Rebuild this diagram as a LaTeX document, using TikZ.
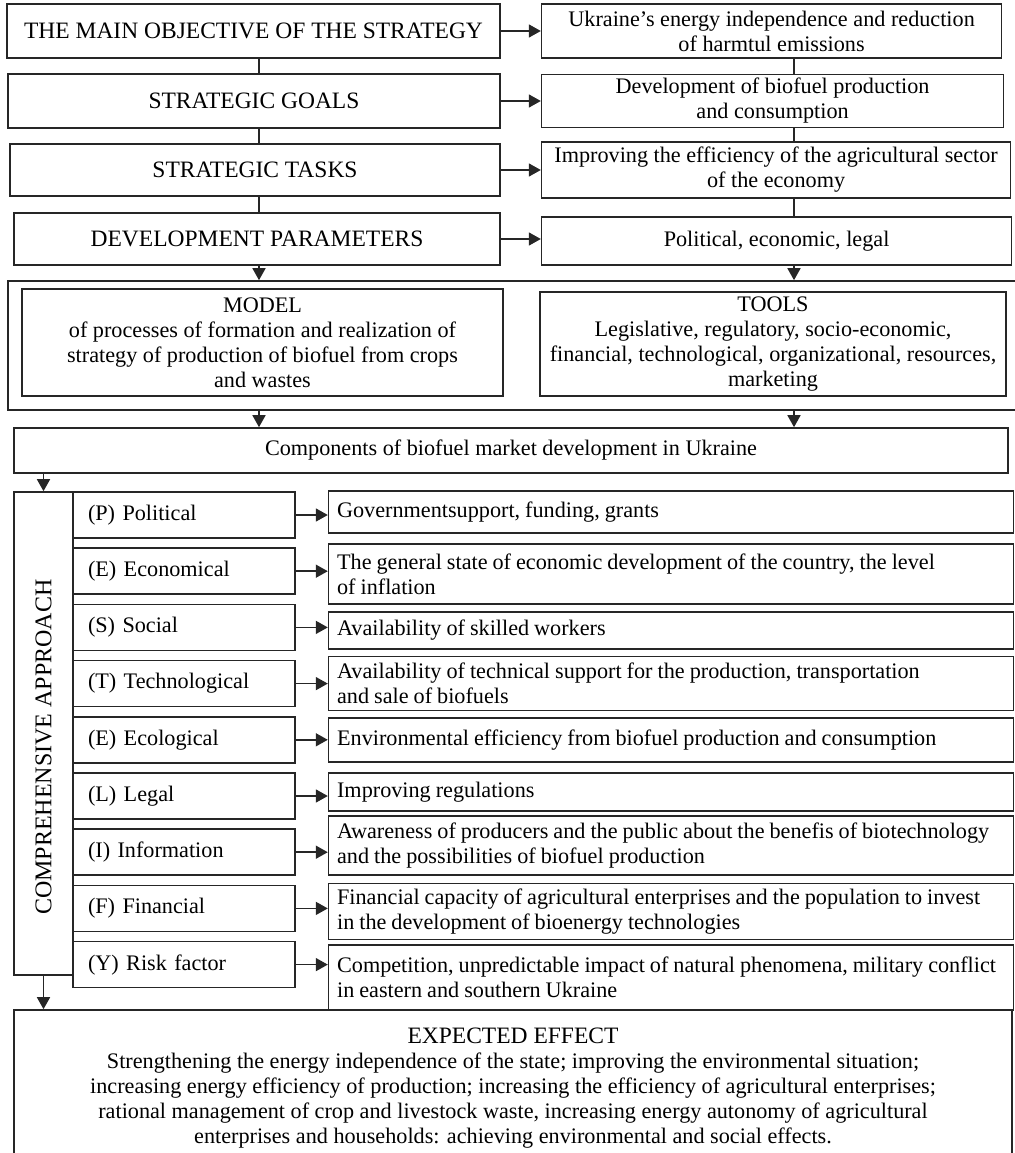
\documentclass[tikz,border=0pt]{standalone}
\usepackage{fontspec}
\usepackage{graphicx}
\setmainfont{Liberation Serif}
\usetikzlibrary{positioning,arrows.meta}

\newcommand{\tightspaces}{\spaceskip=5pt plus 1pt minus 1pt\relax}

\tikzset{
  box/.style={draw=black!85, line width=1.6pt, inner sep=0pt, align=center,
    font=\fontsize{22.2}{25}\selectfont},
  capsbox/.style={box, font=\fontsize{23.5}{25}\selectfont},
  factor/.style={box, text width=192pt, inner xsep=15pt, minimum height=46pt, align=left},
  effect/.style={box, text width=668pt, inner xsep=8.5pt, align=left},
  link/.style={draw=black!85, line width=1.6pt},
  arr/.style={link, -{Triangle[length=12pt,width=13pt]}}
}

\begin{document}
\begin{tikzpicture}[x=1pt, y=-1pt]
		\useasboundingbox (0,0) rectangle (1014,1153);
		
		% Column lines
		\coordinate (lc) at (259,0);
		\coordinate (rc) at (794,0);
		
		% Strategy levels
		\node[capsbox, minimum width=493pt, minimum height=54pt] (obj)    at (253.5,31) {THE MAIN OBJECTIVE OF THE STRATEGY};
		\node[capsbox, minimum width=492pt, minimum height=54pt] (goals)  at (254,101)  {STRATEGIC GOALS};
		\node[capsbox, minimum width=490pt, minimum height=52pt] (tasks)  at (255,170)  {STRATEGIC TASKS};
		\node[capsbox, minimum width=486pt, minimum height=52pt] (params) at (257,239)  {DEVELOPMENT PARAMETERS};
		
		\node[box, minimum width=460pt, minimum height=54pt, right=40pt of obj]   (obj_r)    {Ukraine’s energy independence and reduction\\of harmtul emissions};
		\node[box, minimum width=462pt, minimum height=53pt, right=40pt of goals] (goals_r)  {Development of biofuel production\\and consumption};
		\node[box, minimum width=469pt, minimum height=56pt, right=40pt of tasks] (tasks_r)  {Improving the efficiency of the agricultural sector\\of the economy};
		\node[box, minimum width=470pt, minimum height=48pt, right=40pt of params, yshift=-2pt] (params_r) {Political, economic, legal};
		
		% Model and tools
		\node[box, minimum width=1010pt, minimum height=129pt] (frame) at (513,345.5) {};
		\node[box, minimum width=481pt, minimum height=107pt] (model) at (262.5,342.5)
		  {MODEL\\of processes of formation and realization of\\strategy of production of biofuel from crops\\and wastes};
		\node[box, minimum width=466pt, minimum height=104pt] (tools) at (773,344)
		  {TOOLS\\Legislative, regulatory, socio-economic,\\financial, technological, organizational, resources,\\marketing};
		
		\node[box, minimum width=994pt, minimum height=45pt] (comp) at (511,450.5) {Components of biofuel market development in Ukraine};
		
		% Comprehensive approach
		\node[box, minimum width=59pt, minimum height=483pt] (approach) at (43.5,733.5)
		  {\rotatebox{90}{\fontsize{24}{25}\selectfont COMPREHENSIVE APPROACH\hspace*{27pt}}};
		
		\node[factor] (pol) at (184,515) {(P) Political};
		\node[factor, below=8.6pt of pol]  (econ)  {(E) Economical};
		\node[factor, below=8.6pt of econ] (soc)   {(S) Social};
		\node[factor, below=8.6pt of soc]  (tech)  {(T) Technological};
		\node[factor, below=8.6pt of tech] (ecol)  {(E) Ecological};
		\node[factor, below=8.6pt of ecol] (legal) {(L) Legal};
		\node[factor, below=8.6pt of legal] (info) {(I) Information};
		\node[factor, below=8.6pt of info] (fin)   {(F) Financial};
		\node[factor, below=8.6pt of fin]  (risk)  {(Y) Risk factor};
		
		\node[effect, minimum height=42pt, right=32pt of pol, yshift=3pt]   (pol_r)   {\tightspaces Governmentsupport, funding, grants};
		\node[effect, minimum height=60pt, right=32pt of econ, yshift=-3pt] (econ_r)  {\tightspaces\mbox{The general state of economic development of the country, the level}\\of inflation};
		\node[effect, minimum height=37pt, right=32pt of soc, yshift=-3pt]  (soc_r)   {\tightspaces Availability of skilled workers};
		\node[effect, minimum height=54pt, right=32pt of tech]              (tech_r)  {\tightspaces\mbox{Availability of technical support for the production, transportation}\\and sale of biofuels};
		\node[effect, minimum height=44pt, right=32pt of ecol]              (ecol_r)  {\tightspaces Environmental efficiency from biofuel production and consumption};
		\node[effect, minimum height=38pt, right=32pt of legal, yshift=4pt] (legal_r) {\tightspaces Improving regulations};
		\node[effect, minimum height=59pt, right=32pt of info, yshift=7pt]  (info_r)  {\tightspaces\mbox{Awareness of producers and the public about the benefis of biotechnology}\\and the possibilities of biofuel production};
		\node[effect, minimum height=56pt, right=32pt of fin, yshift=-3pt]  (fin_r)   {\tightspaces\mbox{Financial capacity of agricultural enterprises and the population to invest}\\in the development of bioenergy technologies};
		\node[effect, minimum height=65pt, right=32pt of risk, yshift=-13pt] (risk_r) {\tightspaces\mbox{Competition, unpredictable impact of natural phenomena, military conflict}\\in eastern and southern Ukraine};
		
		% Expected effect
		\node[box, minimum width=998pt, minimum height=156pt] (result) at (513,1088)
		  {{\fontsize{23.5}{25}\selectfont EXPECTED EFFECT}\\
		   Strengthening the energy independence of the state; improving the environmental situation;\\
		   increasing energy efficiency of production; increasing the efficiency of agricultural enterprises;\\
		   rational management of crop and livestock waste, increasing energy autonomy of agricultural\\
		   enterprises and households: achieving environmental and social effects.};
		
		% Connect the levels
		\draw[link] (obj.south -| lc) -- (goals.north -| lc);
		\draw[link] (goals.south -| lc) -- (tasks.north -| lc);
		\draw[link] (tasks.south -| lc) -- (params.north -| lc);
		\draw[link] (obj_r.south -| rc) -- (goals_r.north -| rc);
		\draw[link] (goals_r.south -| rc) -- (tasks_r.north -| rc);
		\draw[link] (tasks_r.south -| rc) -- (params_r.north -| rc);
		
		\draw[arr] (obj.east) -- (obj.east -| obj_r.west);
		\draw[arr] (goals.east) -- (goals.east -| goals_r.west);
		\draw[arr] (tasks.east) -- (tasks.east -| tasks_r.west);
		\draw[arr] (params.east) -- (params.east -| params_r.west);
		
		\draw[arr] (params.south -| lc) -- (frame.north -| lc);
		\draw[arr] (params_r.south -| rc) -- (frame.north -| rc);
		\draw[arr] (frame.south -| lc) -- (comp.north -| lc);
		\draw[arr] (frame.south -| rc) -- (comp.north -| rc);
		\draw[arr] (comp.south -| approach.north) -- (approach.north);
		\draw[arr] (approach.south) -- (approach.south |- result.north);
		
		% Factors to their content
		\draw[arr] (pol.east) -- (pol.east -| pol_r.west);
		\draw[arr] (econ.east) -- (econ.east -| econ_r.west);
		\draw[arr] (soc.east) -- (soc.east -| soc_r.west);
		\draw[arr] (tech.east) -- (tech.east -| tech_r.west);
		\draw[arr] (ecol.east) -- (ecol.east -| ecol_r.west);
		\draw[arr] (legal.east) -- (legal.east -| legal_r.west);
		\draw[arr] (info.east) -- (info.east -| info_r.west);
		\draw[arr] (fin.east) -- (fin.east -| fin_r.west);
		\draw[arr] (risk.east) -- (risk.east -| risk_r.west);
		
\end{tikzpicture}
\end{document}
